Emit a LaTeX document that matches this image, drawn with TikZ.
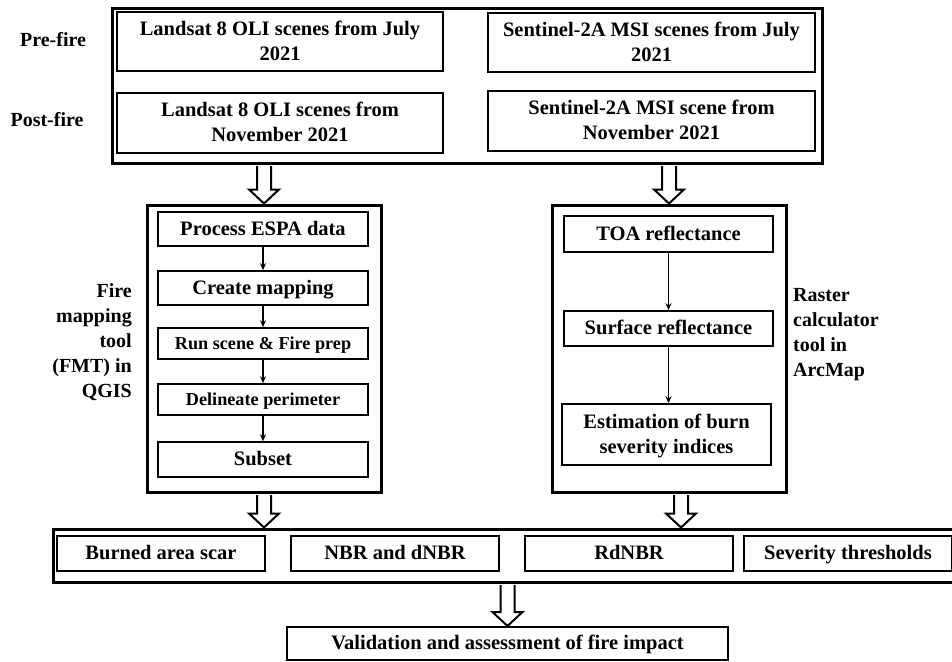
\documentclass[tikz,border=0pt]{standalone}
\usepackage{fontspec}
\setmainfont{Liberation Serif}
\usetikzlibrary{arrows.meta,calc}
\newcommand{\st}{\rule[-4.2pt]{0pt}{20.8pt}}
\tikzset{
 outerbox/.style={draw, line width=3pt, inner sep=0pt},
 innerbox/.style={draw, line width=1.6pt, inner sep=0pt, align=center, font=\bfseries\fontsize{20.5}{25}\selectfont},
 smalltext/.style={font=\bfseries\fontsize{18.2}{25}\selectfont},
 lbl/.style={inner sep=0pt, font=\bfseries\fontsize{20}{25}\selectfont},
 flow/.style={-{Stealth[length=7pt,width=6pt]}, line width=1.2pt},
 hollow/.style={draw, fill=white, line width=2pt, line join=miter},
}
\newcommand{\harrow}[2]{\path[hollow] let \p1=(#1), \p2=(#2) in (\x1-7pt,\y1-1.5pt) -- (\x1-7pt,\y2+14pt) -- (\x1-15pt,\y2+14pt) -- (\x1,\y2) -- (\x1+15pt,\y2+14pt) -- (\x1+7pt,\y2+14pt) -- (\x1+7pt,\y1-1.5pt);}
\begin{document}
\begin{tikzpicture}[x=1pt,y=-1pt]
\useasboundingbox (0,0) rectangle (952,661);
\clip (0,0) rectangle (952,661);
% top block
\node[outerbox, minimum width=710pt, minimum height=154pt] (top) at (467,86) {};
\node[innerbox, minimum width=326pt, minimum height=59pt] (L1) at (280,41.5) {\st Landsat 8 OLI scenes from July\\\st 2021};
\node[innerbox, minimum width=326pt, minimum height=60pt] (L2) at (280,123) {\st Landsat 8 OLI scenes from\\\st November 2021};
\node[innerbox, minimum width=327pt, minimum height=59pt] (S1) at (651.5,42.5) {\st Sentinel-2A MSI scenes from July\\\st 2021};
\node[innerbox, minimum width=327pt, minimum height=60pt] (S2) at (651.5,121) {\st Sentinel-2A MSI scene from\\\st November 2021};
\node[lbl] (pre) at (53,40) {Pre-fire};
\node[lbl] (post) at (47,120) {Post-fire};
% FMT block
\node[outerbox, minimum width=234pt, minimum height=287pt] (fmt) at (264,348.5) {};
\node[innerbox, minimum width=210pt, minimum height=34pt] (p1) at (263,229) {\st Process ESPA\ data};
\node[innerbox, minimum width=210pt, minimum height=34pt] (p2) at (263,288) {\st Create mapping};
\node[innerbox, smalltext, minimum width=210pt, minimum height=31pt] (p3) at (263,343.5) {\st Run scene \& Fire prep};
\node[innerbox, smalltext, minimum width=210pt, minimum height=31pt] (p4) at (263,399.5) {\st Delineate perimeter};
\node[innerbox, minimum width=210pt, minimum height=35pt] (p5) at (263,459.5) {\st Subset};
\node[lbl, align=right, anchor=east] (fmtlbl) at (132,342) {Fire\\mapping\\tool\\(FMT) in\\QGIS};
\draw[flow] (p1) -- (p2);
\draw[flow] (p2) -- (p3);
\draw[flow] (p3) -- (p4);
\draw[flow] (p4) -- (p5);
% Raster block
\node[outerbox, minimum width=234pt, minimum height=287pt] (ras) at (669,348.5) {};
\node[innerbox, minimum width=209pt, minimum height=36pt] (r1) at (668.5,234) {\st TOA reflectance};
\node[innerbox, minimum width=209pt, minimum height=35pt] (r2) at (668.5,328.5) {\st Surface reflectance};
\node[innerbox, minimum width=209pt, minimum height=61pt] (r3) at (666.5,434.5) {\st Estimation of burn\\\st severity indices};
\node[lbl, align=left, anchor=west] (raslbl) at (793,335) {Raster\\calculator\\tool in\\ArcMap};
\draw[flow] (r1) -- (r2);
\draw[flow] (r2) -- (r3.north -| r2);
% bottom row
\node[outerbox, minimum width=907pt, minimum height=53pt] (bot) at (506.5,555.5) {};
\node[innerbox, minimum width=208pt, minimum height=35pt] (b1) at (161,553.5) {\st Burned area scar};
\node[innerbox, minimum width=208pt, minimum height=35pt] (b2) at (395,553.5) {\st NBR and dNBR};
\node[innerbox, minimum width=208pt, minimum height=35pt] (b3) at (629,553.5) {\st RdNBR};
\node[innerbox, minimum width=208pt, minimum height=35pt] (b4) at (848,553.5) {\st Severity thresholds};
\node[innerbox, line width=2pt, minimum width=441pt, minimum height=33pt] (val) at (507.5,643.5) {\st Validation\ and assessment of fire impact};
% hollow arrows
\coordinate (a4) at (681,0);
\harrow{top.south -| fmt.north}{fmt.north}
\harrow{top.south -| ras.north}{ras.north}
\harrow{fmt.south}{bot.north -| fmt.south}
\harrow{ras.south -| a4}{bot.north -| a4}
\harrow{bot.south -| val.north}{val.north}
\end{tikzpicture}
\end{document}
